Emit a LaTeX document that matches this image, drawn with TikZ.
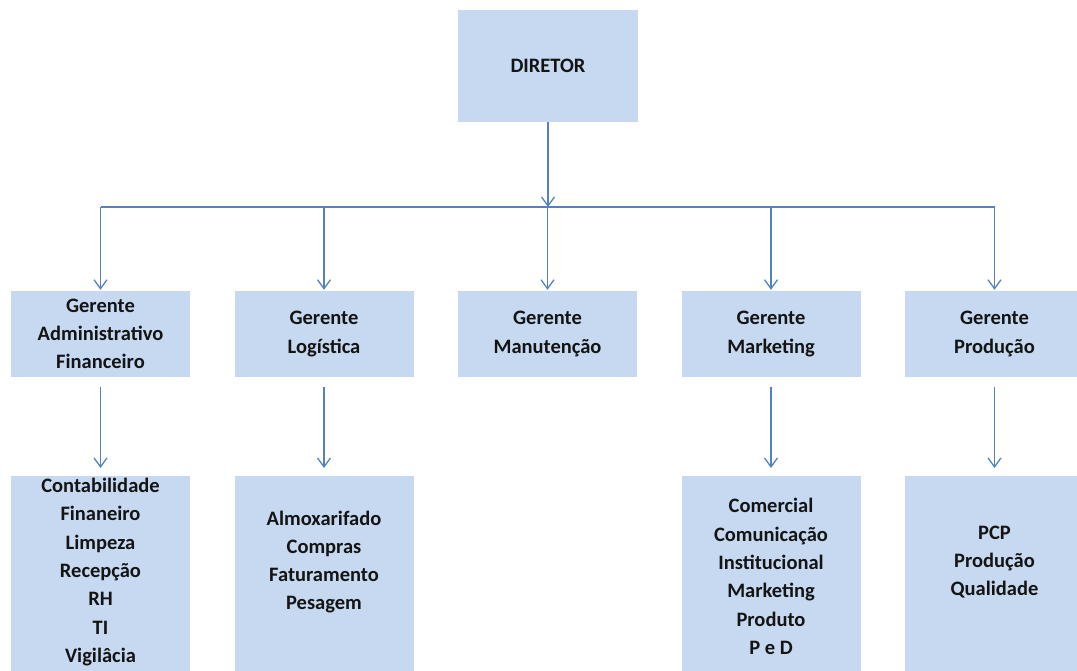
\documentclass[tikz,border=0pt]{standalone}
\usepackage{fontspec}
\setmainfont{Carlito}
\usetikzlibrary{arrows.meta}
\definecolor{boxblue}{RGB}{198,217,241}
\definecolor{linkblue}{RGB}{84,130,190}

\begin{document}
\begin{tikzpicture}[x=1pt,y=-1pt,
	box/.style={rectangle,fill=boxblue,inner sep=0pt,minimum width=179pt,minimum height=86pt,
		align=center,text=black!92,font=\bfseries\fontsize{20.5}{28.3}\selectfont},
	subbox/.style={rectangle,fill=boxblue,inner sep=0pt,minimum width=179pt,minimum height=240pt,anchor=north},
	lst/.style={inner sep=0pt,align=center,text=black!92,font=\bfseries\fontsize{20.5}{28.3}\selectfont},
	link/.style={draw=linkblue,line width=1.3pt},
	arr/.style={link,-{Straight Barb[length=9pt,width=13pt,line width=1.3pt]}}]
	\useasboundingbox (0,0) rectangle (1077,670);
	\clip (0,0) rectangle (1077,670);
	% top
	\node [box,minimum width=180pt,minimum height=112pt] (dir) at (548,66) {DIRETOR};
	\node [coordinate] (hub) at (548,207) {};
	% managers
	\node [box] (gAdm)  at (100.5,334) {Gerente\\Administrativo\\Financeiro};
	\node [box] (gLog)  at (324,334)   {Gerente\\Logística};
	\node [box] (gMan)  at (547.5,334) {Gerente\\Manutenção};
	\node [box] (gMkt)  at (771,334)   {Gerente\\Marketing};
	\node [box] (gProd) at (994.5,334) {Gerente\\Produção};
	% sectors
	\node [subbox] (sAdm)  at (100.5,476) {};
	\node [subbox] (sLog)  at (324,476)   {};
	\node [subbox] (sMkt)  at (771,476)   {};
	\node [subbox] (sProd) at (994.5,476) {};
	\node [lst] (tAdm)  at (100.5,572)   {Contabilidade\\Finaneiro\\Limpeza\\Recepção\\RH\\TI\\Vigilâcia};
	\node [lst] (tLog)  at (324,562)     {Almoxarifado\\Compras\\Faturamento\\Pesagem};
	\node [lst] (tMkt)  at (771,576.5)   {Comercial\\Comunicação\\Institucional\\Marketing\\Produto\\P e D};
	\node [lst] (tProd) at (994.5,562)   {PCP\\Produção\\Qualidade};
	% connectors
	\draw [arr] (dir) -- (hub);
	\draw [link] (gAdm |- hub) -- (gProd |- hub);
	\foreach \g in {gAdm,gLog,gMan,gMkt,gProd}
		\draw [arr,shorten >=1pt] (\g |- hub) -- (\g.north);
	\foreach \g/\s in {gAdm/sAdm,gLog/sLog,gMkt/sMkt,gProd/sProd}
		\draw [arr,shorten <=10pt,shorten >=8pt] (\g.south) -- (\s.north);
\end{tikzpicture}
\end{document}
